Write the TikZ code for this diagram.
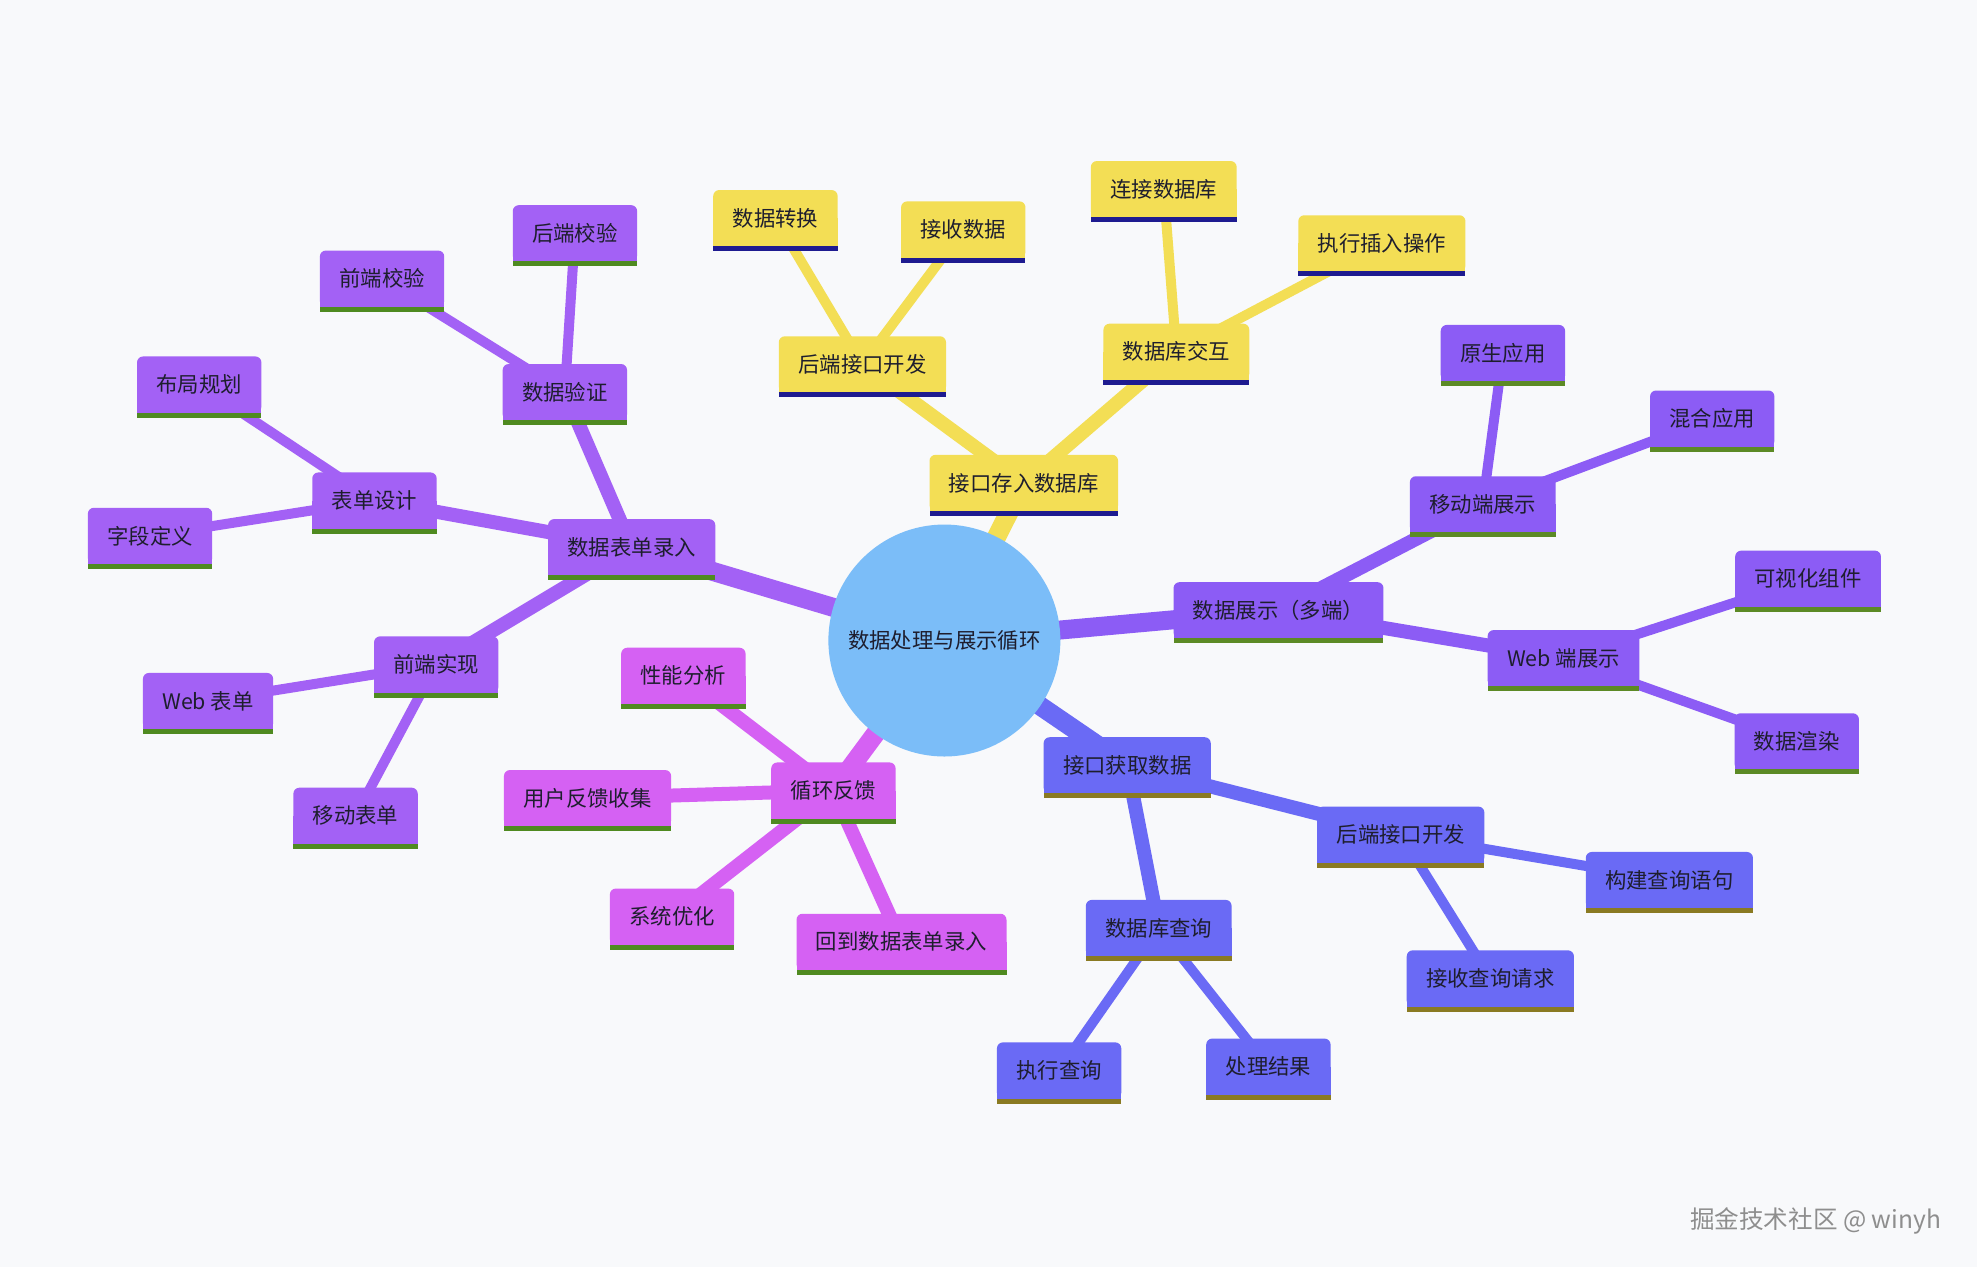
\documentclass[tikz,border=0pt]{standalone}
\usepackage{fontspec}
\newfontfamily\cjk{Noto Sans CJK SC}
\definecolor{bgc}{HTML}{F8F9FB}
\definecolor{txt}{HTML}{1E1E2E}
\definecolor{rootc}{HTML}{7BBDF8}
\definecolor{yel}{HTML}{F3DE55}
\definecolor{yelbar}{HTML}{1E1B90}
\definecolor{purL}{HTML}{A361F5}
\definecolor{purR}{HTML}{8C5CF5}
\definecolor{grnbar}{HTML}{4F8A20}
\definecolor{grnbarR}{HTML}{5C8A25}
\definecolor{mag}{HTML}{D561F3}
\definecolor{ind}{HTML}{6A6AF5}
\definecolor{indbar}{HTML}{8A7A22}
\definecolor{wmc}{HTML}{8E8E8E}
\pgfdeclarelayer{bglayer}
\pgfdeclarelayer{edgelayer}
\pgfdeclarelayer{boxlayer}
\pgfsetlayers{bglayer,edgelayer,boxlayer,main}
\newcommand\mmbox[3]{%
  \fill[#2, rounded corners=3pt] (#1.south west) rectangle (#1.north east);
  \fill[#2] (#1.south west) rectangle (#1.east);
  \fill[#3] (#1.south west) rectangle ([yshift=-2.5pt]#1.south east);
}
\begin{document}
\begin{tikzpicture}[x=0.6305pt,y=-0.6305pt,
  mm/.style={inner xsep=9.5pt, inner ysep=0pt, minimum height=27.7pt, text=txt,
    font=\cjk\fontsize{10.7pt}{12pt}\selectfont},
  wa/.style={line width=9.5pt},
  wb/.style={line width=7pt},
  wc/.style={line width=5pt}]
\begin{pgfonlayer}{bglayer}
\fill[bgc] (0,0) rectangle (1568,1005);
\end{pgfonlayer}
\useasboundingbox (0,0) rectangle (1568,1005);

\node[circle, fill=rootc, minimum size=116pt, inner sep=0pt, text=txt,
  font=\cjk\fontsize{10.7pt}{12pt}\selectfont] (root) at (749,508) {数据处理与展示循环};

\begin{scope}[shift={(0,2)}]
% left purple
\node[mm] (a0) at (501,432) {数据表单录入};
\node[mm] (a1) at (448,309) {数据验证};
\node[mm] (a11) at (456,183) {后端校验};
\node[mm] (a12) at (303,219) {前端校验};
\node[mm] (a2) at (297,395) {表单设计};
\node[mm] (a21) at (158,303) {布局规划};
\node[mm] (a22) at (119,423) {字段定义};
\node[mm] (a3) at (346,525) {前端实现};
\node[mm] (a31) at (165,554) {Web 表单};
\node[mm] (a32) at (282,645) {移动表单};
% magenta
\node[mm] (b0) at (661,625) {循环反馈};
\node[mm] (b1) at (542,534) {性能分析};
\node[mm] (b2) at (466,631) {用户反馈收集};
\node[mm] (b3) at (533,725) {系统优化};
\node[mm] (b4) at (715,745) {回到数据表单录入};
% yellow
\node[mm] (c0) at (812,381) {接口存入数据库};
\node[mm] (c1) at (684,287) {后端接口开发};
\node[mm] (c11) at (615,171) {数据转换};
\node[mm] (c12) at (764,180) {接收数据};
\node[mm] (c2) at (933,277) {数据库交互};
\node[mm] (c21) at (923,148) {连接数据库};
\node[mm] (c22) at (1096,191) {执行插入操作};
% right violet
\node[mm] (d0) at (1014,482) {数据展示（多端）};
\node[mm] (d1) at (1176,398) {移动端展示};
\node[mm] (d11) at (1192,278) {原生应用};
\node[mm] (d12) at (1358,330) {混合应用};
\node[mm] (d2) at (1240,520) {Web 端展示};
\node[mm] (d21) at (1434,457) {可视化组件};
\node[mm] (d22) at (1425,586) {数据渲染};
% indigo
\node[mm] (e0) at (894,605) {接口获取数据};
\node[mm] (e1) at (1111,660) {后端接口开发};
\node[mm] (e11) at (1324,696) {构建查询语句};
\node[mm] (e12) at (1182,774) {接收查询请求};
\node[mm] (e2) at (919,734) {数据库查询};
\node[mm] (e21) at (840,847) {执行查询};
\node[mm] (e22) at (1006,844) {处理结果};
\end{scope}

\node[text=wmc, font=\cjk\fontsize{12.3pt}{14pt}\selectfont] (wm) at (1440,968) {掘金技术社区 @ winyh};

\begin{pgfonlayer}{boxlayer}
\foreach \n in {a0,a1,a11,a12,a2,a21,a22,a3,a31,a32} {\mmbox{\n}{purL}{grnbar}}
\foreach \n in {b0,b1,b2,b3,b4} {\mmbox{\n}{mag}{grnbar}}
\foreach \n in {c0,c1,c11,c12,c2,c21,c22} {\mmbox{\n}{yel}{yelbar}}
\foreach \n in {d0,d1,d11,d12,d2,d21,d22} {\mmbox{\n}{purR}{grnbarR}}
\foreach \n in {e0,e1,e11,e12,e2,e21,e22} {\mmbox{\n}{ind}{indbar}}
\end{pgfonlayer}

\begin{pgfonlayer}{edgelayer}
\draw[purL, wa] (root.center) -- (a0.center);
\draw[purL, wb] (a0.center) -- (a1.center);
\draw[purL, wb] (a0.center) -- (a2.center);
\draw[purL, wb] (a0.center) -- (a3.center);
\draw[purL, wc] (a1.center) -- (a11.center);
\draw[purL, wc] (a1.center) -- (a12.center);
\draw[purL, wc] (a2.center) -- (a21.center);
\draw[purL, wc] (a2.center) -- (a22.center);
\draw[purL, wc] (a3.center) -- (a31.center);
\draw[purL, wc] (a3.center) -- (a32.center);

\draw[mag, wa] (root.center) -- (b0.center);
\draw[mag, wb] (b0.center) -- (b1.center);
\draw[mag, wb] (b0.center) -- (b2.center);
\draw[mag, wb] (b0.center) -- (b3.center);
\draw[mag, wb] (b0.center) -- (b4.center);

\draw[yel, wa] (root.center) -- (c0.center);
\draw[yel, wb] (c0.center) -- (c1.center);
\draw[yel, wb] (c0.center) -- (c2.center);
\draw[yel, wc] (c1.center) -- (c11.center);
\draw[yel, wc] (c1.center) -- (c12.center);
\draw[yel, wc] (c2.center) -- (c21.center);
\draw[yel, wc] (c2.center) -- (c22.center);

\draw[purR, wa] (root.center) -- (d0.center);
\draw[purR, wb] (d0.center) -- (d1.center);
\draw[purR, wb] (d0.center) -- (d2.center);
\draw[purR, wc] (d1.center) -- (d11.center);
\draw[purR, wc] (d1.center) -- (d12.center);
\draw[purR, wc] (d2.center) -- (d21.center);
\draw[purR, wc] (d2.center) -- (d22.center);

\draw[ind, wa] (root.center) -- (e0.center);
\draw[ind, wb] (e0.center) -- (e1.center);
\draw[ind, wb] (e0.center) -- (e2.center);
\draw[ind, wc] (e1.center) -- (e11.center);
\draw[ind, wc] (e1.center) -- (e12.center);
\draw[ind, wc] (e2.center) -- (e21.center);
\draw[ind, wc] (e2.center) -- (e22.center);
\end{pgfonlayer}
\end{tikzpicture}
\end{document}
